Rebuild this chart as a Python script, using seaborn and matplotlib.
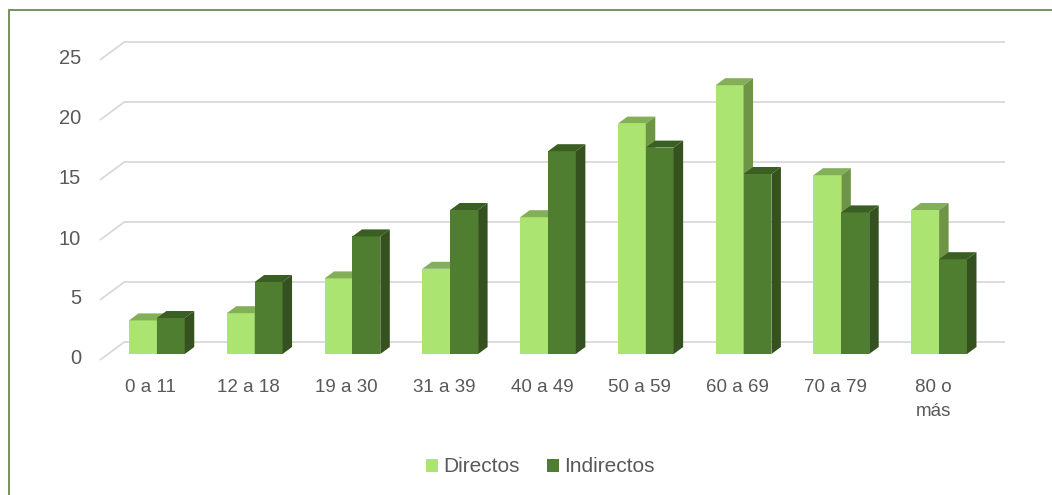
import matplotlib
matplotlib.use("Agg")
import matplotlib.pyplot as plt
from matplotlib.patches import Polygon, Patch, Rectangle
from matplotlib.transforms import ScaledTranslation
from matplotlib.colors import to_rgba
import seaborn as sns
import pandas as pd
import numpy as np

# Age groups and counts per group
categories = ["0 a 11", "12 a 18", "19 a 30", "31 a 39", "40 a 49",
              "50 a 59", "60 a 69", "70 a 79", "80 o\nmás"]
directos = [2.8, 3.4, 6.3, 7.1, 11.4, 19.2, 22.4, 14.9, 12.0]
indirectos = [3.0, 6.0, 9.8, 12.0, 16.9, 17.2, 15.0, 11.8, 7.9]
series_names = ["Directos", "Indirectos"]
y_ticks = [0, 5, 10, 15, 20, 25]

# Face colours (front, top, side) for each series
face_colors = {
    "Directos": ("#ABE470", "#82AF58", "#6E9446"),
    "Indirectos": ("#507E30", "#3B5E22", "#35511F"),
}
text_color = "#595959"
grid_color = "#D9D9D9"

sns.set_theme(style="white")
plt.rcParams["font.family"] = ["Liberation Sans", "DejaVu Sans"]

W, H = 1052, 495
DPI = 100
fig = plt.figure(figsize=(W / DPI, H / DPI), dpi=DPI)
# front plane of the bars, in pixel extents
left_px, right_px, bottom_px, top_px = 108, 988, 354, 54
ax = fig.add_axes([left_px / W, 1 - bottom_px / H,
                   (right_px - left_px) / W, (bottom_px - top_px) / H])

df = pd.DataFrame({
    "grupo": categories * 2,
    "valor": directos + indirectos,
    "serie": [series_names[0]] * len(categories) + [series_names[1]] * len(categories),
})

sns.barplot(data=df, x="grupo", y="valor", hue="serie", order=categories,
            hue_order=series_names,
            palette=[face_colors[s][0] for s in series_names],
            width=0.57, saturation=1, legend=False, ax=ax,
            linewidth=0, edgecolor="none")

ax.set_xlim(-0.5, len(categories) - 0.5)
ax.set_ylim(0, 25)
ax.set_xticks([])
ax.set_yticks([])
ax.set_xlabel("")
ax.set_ylabel("")
for sp in ax.spines.values():
    sp.set_visible(False)
ax.patch.set_alpha(0)

# pixel -> data unit conversion along each axis
px_x = (right_px - left_px) / (len(categories))
px_y = (bottom_px - top_px) / 25.0

def off(dx_px, dy_px):
    return dx_px / px_x, dy_px / px_y

# bar depth and wall depth (pixels, right/up)
bdx, bdy = off(9.5, 7)
wdx, wdy = off(17, 12.5)
fdx, fdy = off(-8, -6)

# back wall gridlines and the left floor/side edges
x_lo, x_hi = -0.5, len(categories) - 0.5
for v in y_ticks:
    ax.plot([x_lo + wdx, x_hi + wdx], [v + wdy, v + wdy],
            color=grid_color, lw=1.3, zorder=0.5, clip_on=False,
            solid_capstyle="butt")
    ax.plot([x_lo + fdx, x_lo + wdx], [v + fdy, v + wdy],
            color=grid_color, lw=1.3, zorder=0.5, clip_on=False,
            solid_capstyle="butt")

# top and side faces of every bar
light_rgba = to_rgba(face_colors["Directos"][0])
for p in ax.patches:
    fc = p.get_facecolor()
    serie = "Directos" if np.allclose(fc, light_rgba, atol=0.02) else "Indirectos"
    _, top_c, side_c = face_colors[serie]
    z = 2 if serie == "Directos" else 3
    p.set_zorder(z)
    p.set_clip_on(False)
    x0 = p.get_x()
    w = p.get_width()
    h = p.get_height()
    top = Polygon([(x0, h), (x0 + w, h), (x0 + w + bdx, h + bdy), (x0 + bdx, h + bdy)],
                  closed=True, facecolor=top_c, edgecolor="none", zorder=z, clip_on=False)
    side = Polygon([(x0 + w, 0), (x0 + w + bdx, bdy), (x0 + w + bdx, h + bdy), (x0 + w, h)],
                   closed=True, facecolor=side_c, edgecolor="none", zorder=z, clip_on=False)
    ax.add_patch(top)
    ax.add_patch(side)

# y axis labels along the floor's front edge
ylab_tr = ax.transData + ScaledTranslation(-27 / DPI, -5 / DPI, fig.dpi_scale_trans)
for v in y_ticks:
    ax.text(x_lo, v, str(v), transform=ylab_tr, ha="right", va="center",
            fontsize=14.5, color=text_color)

# category labels
xlab_tr = ax.transData + ScaledTranslation(-6 / DPI, -25 / DPI, fig.dpi_scale_trans)
for i, c in enumerate(categories):
    ax.text(i, 0, c, transform=xlab_tr, ha="center", va="top",
            fontsize=13.5, color=text_color, linespacing=1.55,
            multialignment="center")

handles = [Patch(facecolor=face_colors[s][0], edgecolor="none") for s in series_names]
fig.legend(handles, series_names, loc="center", bbox_to_anchor=(540 / W, 1 - 467 / H),
           ncol=2, frameon=False, fontsize=15, handlelength=0.6, handleheight=0.6,
           handletextpad=0.22, columnspacing=1.3, labelcolor=text_color)

# outer frame of the chart area
fig.patches.append(Rectangle((9 / W, -0.1), 1.2, 1.1 - 10 / H, transform=fig.transFigure,
                             fill=False, edgecolor="#6A8B4C", lw=1.3, zorder=10))

fig.savefig("out.png", dpi=DPI)
